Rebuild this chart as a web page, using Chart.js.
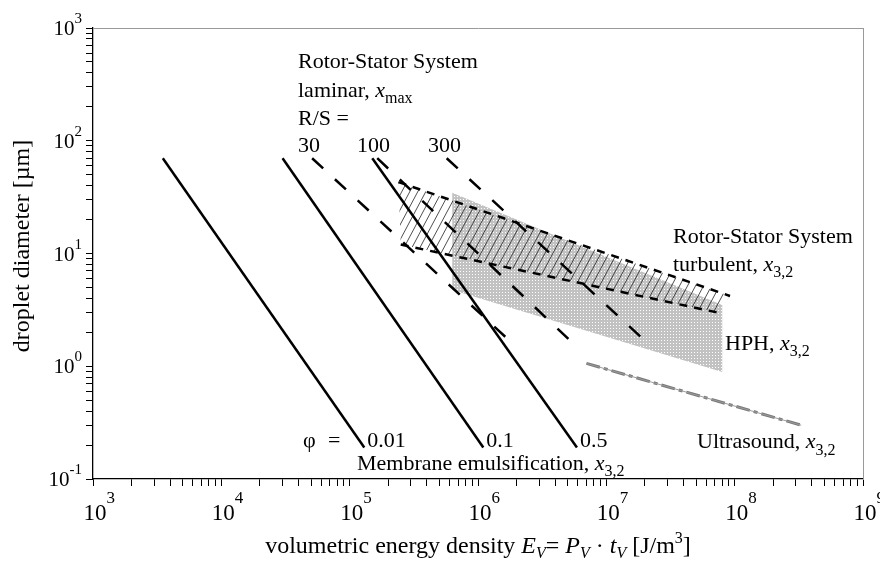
<!DOCTYPE html>
<html>
<head>
<meta charset="utf-8">
<script src="https://cdn.jsdelivr.net/npm/chart.js@4.4.0/dist/chart.umd.min.js"></script>
<style>
  html, body { margin: 0; padding: 0; background: #fff; }
  #wrap { width: 880px; height: 561px; }
</style>
</head>
<body>
<div id="wrap"><canvas id="chart" width="880" height="561"></canvas></div>
<script>
// axis decades (10^n)
const xExponents = [3, 4, 5, 6, 7, 8, 9];
const yExponents = [-1, 0, 1, 2, 3];

// membrane emulsification, x3,2  (phi = 0.01 / 0.1 / 0.5)
const phiLabels = ['0.01', '0.1', '0.5'];
const membraneEv = [[3.5e3, 1.3e5], [3.0e4, 1.1e6], [1.5e5, 5.9e6]];
const membraneX = [70, 0.19];

// rotor-stator laminar, xmax  (R/S = 30 / 100 / 300)
const rsLabels = ['30', '100', '300'];
const laminarEv = [[5.1e4, 1.85e6], [1.64e5, 5.5e6], [5.7e5, 2.1e7]];
const laminarX = [70, 1.6];

// rotor-stator turbulent band, x3,2
const turbUpperEv = [2.4e5, 9.2e7];
const turbUpperX = [43, 4.2];
const turbLowerEv = [2.5e5, 7.3e7];
const turbLowerX = [12, 3.0];

// HPH band, x3,2
const hphEv = [6.3e5, 8.0e7];
const hphUpperX = [34.5, 3.5];
const hphLowerX = [4.75, 0.89];

// ultrasound, x3,2
const usEv = [7.0e6, 3.3e8];
const usX = [1.06, 0.3];

const SERIF = '"Liberation Serif", "Times New Roman", serif';

const pts = (xs, ys) => xs.map((x, i) => ({ x: x, y: ys[i] }));

function hatchPattern() {
  const c = document.createElement('canvas');
  c.width = 8; c.height = 15;
  const g = c.getContext('2d');
  g.strokeStyle = '#222';
  g.lineWidth = 0.8;
  g.beginPath();
  for (const o of [-8, 0, 8]) { g.moveTo(o, 15); g.lineTo(o + 8, 0); }
  g.stroke();
  return g.createPattern(c, 'repeat');
}

function stipplePattern() {
  const c = document.createElement('canvas');
  c.width = 3; c.height = 3;
  const g = c.getContext('2d');
  g.fillStyle = '#c2c2c2';
  g.fillRect(0, 0, 3, 3);
  g.fillStyle = '#ffffff';
  g.fillRect(1, 1, 1, 1);
  return g.createPattern(c, 'repeat');
}

function logTicks(lo, hi) {
  const t = [];
  for (let e = lo; e <= hi; e++) {
    for (let d = 1; d <= 9; d++) {
      if (e === hi && d > 1) break;
      t.push({ value: d * Math.pow(10, e), major: d === 1 });
    }
  }
  return t;
}

const line = (data, extra) => Object.assign({
  data: data, borderColor: '#000', borderWidth: 2.5, pointRadius: 0,
  fill: false, tension: 0, order: 1
}, extra);

const datasets = [];
membraneEv.forEach((ev, i) => datasets.push(line(pts(ev, membraneX), { label: 'phi ' + phiLabels[i] })));
laminarEv.forEach((ev, i) => datasets.push(line(pts(ev, laminarX), { label: 'R/S ' + rsLabels[i], borderDash: [15, 16] })));
datasets.push(line(pts(turbUpperEv, turbUpperX), { label: 'turb upper', borderDash: [8, 7] }));
datasets.push(line(pts(turbLowerEv, turbLowerX), { label: 'turb lower', borderDash: [8, 7] }));
datasets.push(line(pts(usEv, usX), { label: 'ultrasound thin', borderColor: '#9a9a9a', borderWidth: 1 }));
datasets.push(line(pts(usEv, usX), { label: 'ultrasound', borderColor: '#7a7a7a', borderWidth: 3, borderDash: [14, 4, 4, 4] }));
// hatched band (polygon: upper edge, then lower edge back)
datasets.push(line(pts(turbUpperEv, turbUpperX).concat(pts(turbLowerEv, turbLowerX).reverse()), {
  label: 'turb band', borderWidth: 0, borderColor: 'rgba(0,0,0,0)', backgroundColor: hatchPattern(), fill: 'shape', order: 5
}));
// HPH stippled band
datasets.push(line(pts(hphEv, hphUpperX).concat(pts(hphEv, hphLowerX).reverse()), {
  label: 'HPH', borderWidth: 0, borderColor: 'rgba(0,0,0,0)', backgroundColor: stipplePattern(), fill: 'shape', order: 6
}));

function runs(ctx, x, y, parts) {
  for (const p of parts) {
    ctx.font = (p[2] ? 'italic ' : '') + p[1] + 'px ' + SERIF;
    ctx.fillText(p[0], x, y + (p[3] || 0));
    x += ctx.measureText(p[0]).width;
  }
  return x;
}
function runsWidth(ctx, parts) {
  let w = 0;
  for (const p of parts) {
    ctx.font = (p[2] ? 'italic ' : '') + p[1] + 'px ' + SERIF;
    w += ctx.measureText(p[0]).width;
  }
  return w;
}

const textPlugin = {
  id: 'texts',
  afterDraw(chart) {
    const ctx = chart.ctx;
    const xs = chart.scales.x, ys = chart.scales.y;
    ctx.save();
    ctx.fillStyle = '#000';
    ctx.textAlign = 'left';
    ctx.textBaseline = 'alphabetic';

    // tick labels
    yExponents.forEach(e => {
      const py = ys.getPixelForValue(Math.pow(10, e));
      const parts = [['10', 21, false, 7], [String(e), 15, false, -5]];
      runs(ctx, 82 - runsWidth(ctx, parts), py, parts);
    });
    xExponents.forEach(e => {
      const px = xs.getPixelForValue(Math.pow(10, e));
      ctx.font = '23px ' + SERIF;
      const w10 = ctx.measureText('10').width;
      runs(ctx, px + 2 - w10 / 2, 520, [['10', 23, false, 0], [String(e), 17, false, -17]]);
    });

    // axis titles
    const xt = [['volumetric energy density ', 24], ['E', 24, true], ['V', 16, true, 5], ['= ', 24],
      ['P', 24, true], ['V', 16, true, 5], [' \u00b7 ', 24], ['t', 24, true], ['V', 16, true, 5],
      [' [J/m', 24], ['3', 16, false, -10], [']', 24]];
    runs(ctx, (xs.left + xs.right) / 2 - runsWidth(ctx, xt) / 2, 553, xt);

    ctx.save();
    ctx.translate(29, 246);
    ctx.rotate(-Math.PI / 2);
    ctx.textAlign = 'center';
    ctx.font = '24px ' + SERIF;
    ctx.fillText('droplet diameter [\u00b5m]', 0, 0);
    ctx.restore();

    // annotations
    runs(ctx, 298, 68, [['Rotor-Stator System', 22]]);
    runs(ctx, 298, 97, [['laminar, ', 22], ['x', 22, true], ['max', 16, false, 6]]);
    runs(ctx, 298, 125, [['R/S =', 22]]);
    const rsX = [298, 357, 428];
    rsLabels.forEach((t, i) => runs(ctx, rsX[i], 152, [[t, 22]]));

    runs(ctx, 673, 243, [['Rotor-Stator System', 22]]);
    runs(ctx, 673, 271, [['turbulent, ', 22], ['x', 22, true], ['3,2', 16, false, 6]]);
    runs(ctx, 725, 350, [['HPH, ', 22], ['x', 22, true], ['3,2', 16, false, 6]]);
    runs(ctx, 697, 448, [['Ultrasound, ', 22], ['x', 22, true], ['3,2', 16, false, 7]]);

    runs(ctx, 303, 447, [['\u03c6', 22]]);
    runs(ctx, 328, 447, [['=', 22]]);
    phiLabels.forEach((t, i) => {
      const px = xs.getPixelForValue(membraneEv[i][1]);
      runs(ctx, px + 3, 447, [[t, 22]]);
    });
    runs(ctx, 357, 470, [['Membrane emulsification, ', 22], ['x', 22, true], ['3,2', 16, false, 6]]);
    ctx.restore();
  }
};

const mainAxis = (lo, hi, pos) => ({
  type: 'logarithmic',
  position: pos,
  min: Math.pow(10, lo),
  max: Math.pow(10, hi),
  afterBuildTicks: s => { s.ticks = logTicks(lo, hi); },
  ticks: { display: false },
  grid: { drawOnChartArea: false, drawTicks: true, tickLength: 7, tickColor: '#000', tickWidth: 1 },
  border: { display: true, color: '#000', width: 1.3 }
});
const frameAxis = (axis, pos) => ({
  axis: axis,
  type: 'linear',
  position: pos,
  min: 0,
  max: 1,
  ticks: { display: false },
  grid: { drawOnChartArea: false, drawTicks: false },
  border: { display: true, color: '#9a9a9a', width: 1, dash: [2, 2] }
});

new Chart(document.getElementById('chart').getContext('2d'), {
  type: 'line',
  data: { datasets: datasets },
  options: {
    responsive: false,
    devicePixelRatio: 1,
    animation: false,
    layout: { padding: { left: 86, right: 17, top: 28, bottom: 75 } },
    plugins: { legend: { display: false }, tooltip: { enabled: false } },
    scales: {
      x: mainAxis(3, 9, 'bottom'),
      y: mainAxis(-1, 3, 'left'),
      x2: frameAxis('x', 'top'),
      y2: frameAxis('y', 'right')
    }
  },
  plugins: [textPlugin]
});
</script>
</body>
</html>
